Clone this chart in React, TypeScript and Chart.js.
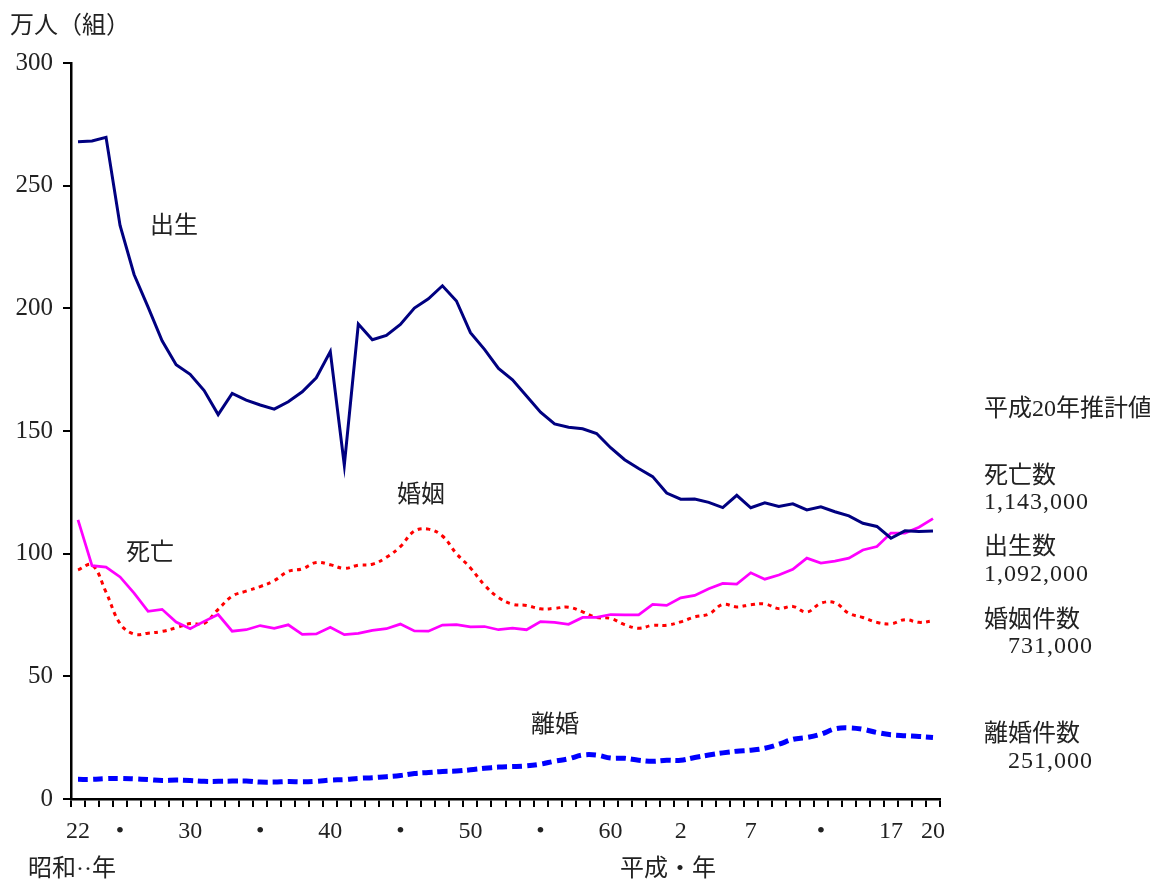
import React, { useEffect, useRef } from 'react';
import { Chart, registerables } from 'chart.js';

Chart.register(...registerables);

// 昭和22年(1947) 〜 平成20年(2008)
const years = [
  '1947', '1948', '1949', '1950', '1951', '1952', '1953', '1954', '1955', '1956',
  '1957', '1958', '1959', '1960', '1961', '1962', '1963', '1964', '1965', '1966',
  '1967', '1968', '1969', '1970', '1971', '1972', '1973', '1974', '1975', '1976',
  '1977', '1978', '1979', '1980', '1981', '1982', '1983', '1984', '1985', '1986',
  '1987', '1988', '1989', '1990', '1991', '1992', '1993', '1994', '1995', '1996',
  '1997', '1998', '1999', '2000', '2001', '2002', '2003', '2004', '2005', '2006',
  '2007', '2008',
];

// x-axis labels shown (year -> label)
const xTickYears = ['1947', '1950', '1955', '1960', '1965', '1970', '1975', '1980', '1985', '1990', '1995', '2000', '2005', '2008'];
const xTickTexts = ['22', '•', '30', '•', '40', '•', '50', '•', '60', '2', '7', '•', '17', '20'];

// 万人
const births = [
  267.9, 268.2, 269.7, 233.8, 213.8, 200.5, 186.8, 177.0, 173.1, 166.5,
  156.7, 165.3, 162.6, 160.6, 158.9, 161.9, 166.0, 171.7, 182.4, 136.1,
  193.6, 187.2, 189.0, 193.4, 200.1, 203.9, 209.2, 203.0, 190.1, 183.3,
  175.5, 170.9, 164.3, 157.7, 152.9, 151.5, 150.9, 149.0, 143.2, 138.3,
  134.7, 131.4, 124.7, 122.2, 122.3, 120.9, 118.8, 123.8, 118.7, 120.7,
  119.2, 120.3, 117.8, 119.1, 117.1, 115.4, 112.4, 111.1, 106.3, 109.3,
  109.0, 109.2,
];
const deaths = [
  113.8, 95.1, 94.5, 90.5, 83.9, 76.5, 77.3, 72.1, 69.4, 72.4,
  75.2, 68.4, 69.0, 70.7, 69.6, 71.0, 67.1, 67.3, 70.0, 67.0,
  67.5, 68.7, 69.4, 71.3, 68.5, 68.4, 70.9, 71.1, 70.2, 70.3,
  69.0, 69.6, 69.0, 72.3, 72.0, 71.2, 74.0, 74.0, 75.2, 75.1,
  75.1, 79.3, 78.9, 82.0, 83.0, 85.7, 87.9, 87.6, 92.2, 89.6,
  91.3, 93.6, 98.2, 96.2, 97.0, 98.2, 101.5, 102.9, 108.4, 108.4,
  110.8, 114.3,
];
// 万組
const marriages = [
  93.4, 95.4, 84.3, 71.5, 67.2, 67.6, 68.3, 69.8, 71.5, 71.6,
  77.3, 82.7, 84.7, 86.6, 89.0, 92.8, 93.8, 96.4, 95.5, 94.0,
  95.3, 95.7, 98.5, 102.9, 109.2, 110.0, 107.2, 100.0, 94.2, 87.2,
  82.1, 79.4, 78.9, 77.5, 77.7, 78.2, 76.3, 74.0, 73.6, 71.1,
  69.6, 70.8, 70.8, 72.2, 74.2, 75.4, 79.3, 78.3, 79.2, 79.5,
  77.6, 78.5, 76.2, 79.8, 80.0, 75.7, 74.0, 72.0, 71.4, 73.1,
  72.0, 72.6,
];
const divorces = [
  8.0, 8.0, 8.3, 8.4, 8.2, 7.9, 7.5, 7.7, 7.5, 7.2,
  7.2, 7.3, 7.3, 6.9, 6.9, 7.1, 7.0, 7.2, 7.7, 7.9,
  8.4, 8.7, 9.1, 9.6, 10.4, 10.8, 11.2, 11.4, 11.9, 12.5,
  13.0, 13.2, 13.5, 14.2, 15.4, 16.4, 17.9, 17.9, 16.7, 16.6,
  15.8, 15.4, 15.8, 15.8, 16.9, 17.9, 18.8, 19.5, 19.9, 20.7,
  22.3, 24.3, 25.1, 26.4, 28.6, 29.0, 28.4, 27.1, 26.2, 25.8,
  25.5, 25.1,
];

const FONT = "'Liberation Serif', 'Noto Sans CJK JP', serif";
const TEXT = '#222';

type Note = { text: string; left: number; top: number; num?: boolean };
const notes: Note[] = [
  { text: '万人（組）', left: 10, top: 12 },
  { text: '出生', left: 150, top: 212 },
  { text: '死亡', left: 126, top: 539 },
  { text: '婚姻', left: 397, top: 481 },
  { text: '離婚', left: 531, top: 711 },
  { text: '平成20年推計値', left: 984, top: 395 },
  { text: '死亡数', left: 984, top: 462 },
  { text: '1,143,000', left: 984, top: 488, num: true },
  { text: '出生数', left: 984, top: 533 },
  { text: '1,092,000', left: 984, top: 560, num: true },
  { text: '婚姻件数', left: 984, top: 606 },
  { text: '731,000', left: 1008, top: 632, num: true },
  { text: '離婚件数', left: 984, top: 720 },
  { text: '251,000', left: 1008, top: 747, num: true },
  { text: '昭和··年', left: 28, top: 855 },
  { text: '平成・年', left: 620, top: 855 },
];

export default function App() {
  const ref = useRef<HTMLCanvasElement>(null);

  useEffect(() => {
    if (!ref.current) return;
    const chart = new Chart(ref.current, {
      type: 'line',
      data: {
        labels: years,
        datasets: [
          {
            label: '出生',
            data: births,
            borderColor: '#000080',
            borderWidth: 3,
            pointRadius: 0,
            tension: 0,
            fill: false,
          },
          {
            label: '死亡',
            data: deaths,
            borderColor: '#FF00FF',
            borderWidth: 2.75,
            pointRadius: 0,
            tension: 0,
            fill: false,
          },
          {
            label: '婚姻',
            data: marriages,
            borderColor: '#FF0000',
            borderWidth: 3,
            borderDash: [4, 4.5],
            pointRadius: 0,
            tension: 0.4,
            fill: false,
          },
          {
            label: '離婚',
            data: divorces,
            borderColor: '#0000FF',
            borderWidth: 5,
            borderDash: [10, 5],
            pointRadius: 0,
            tension: 0.4,
            fill: false,
          },
        ],
      },
      options: {
        animation: false,
        responsive: false,
        events: [],
        layout: { padding: { top: 63, left: 0, right: 210, bottom: 0 } },
        plugins: {
          legend: { display: false },
          tooltip: { enabled: false },
          title: { display: false },
        },
        scales: {
          x: {
            type: 'category',
            offset: true,
            afterFit: (s: any) => {
              s.height = 83;
            },
            grid: {
              offset: true,
              drawOnChartArea: false,
              drawTicks: true,
              tickLength: 8,
              color: '#000',
              lineWidth: 2,
            },
            border: { color: '#000', width: 2.5 },
            ticks: {
              autoSkip: false,
              maxRotation: 0,
              minRotation: 0,
              padding: 10,
              color: TEXT,
              font: { family: FONT, size: 24 },
              callback: (_v: any, i: number) => {
                const k = xTickYears.indexOf(years[i]);
                return k >= 0 ? xTickTexts[k] : '';
              },
            },
          },
          y: {
            min: 0,
            max: 300,
            afterFit: (s: any) => {
              s.width = 71;
            },
            grid: {
              drawOnChartArea: false,
              drawTicks: true,
              tickLength: 8,
              color: '#000',
              lineWidth: 2,
            },
            border: { color: '#000', width: 2.5 },
            ticks: {
              stepSize: 50,
              padding: 10,
              color: TEXT,
              font: { family: FONT, size: 25 },
            },
          },
        },
      },
    });
    return () => chart.destroy();
  }, []);

  return (
    <div style={{ position: 'absolute', left: 0, top: 0, width: 1150, height: 882, background: '#fff' }}>
      <canvas ref={ref} width={1150} height={882} style={{ position: 'absolute', left: 0, top: 0 }} />
      {notes.map((n, i) => (
        <div
          key={i}
          style={{
            position: 'absolute',
            left: n.left,
            top: n.top,
            fontFamily: FONT,
            fontSize: 24,
            lineHeight: '26px',
            letterSpacing: n.num ? '1px' : 'normal',
            color: TEXT,
            whiteSpace: 'nowrap',
          }}
        >
          {n.text}
        </div>
      ))}
    </div>
  );
}
